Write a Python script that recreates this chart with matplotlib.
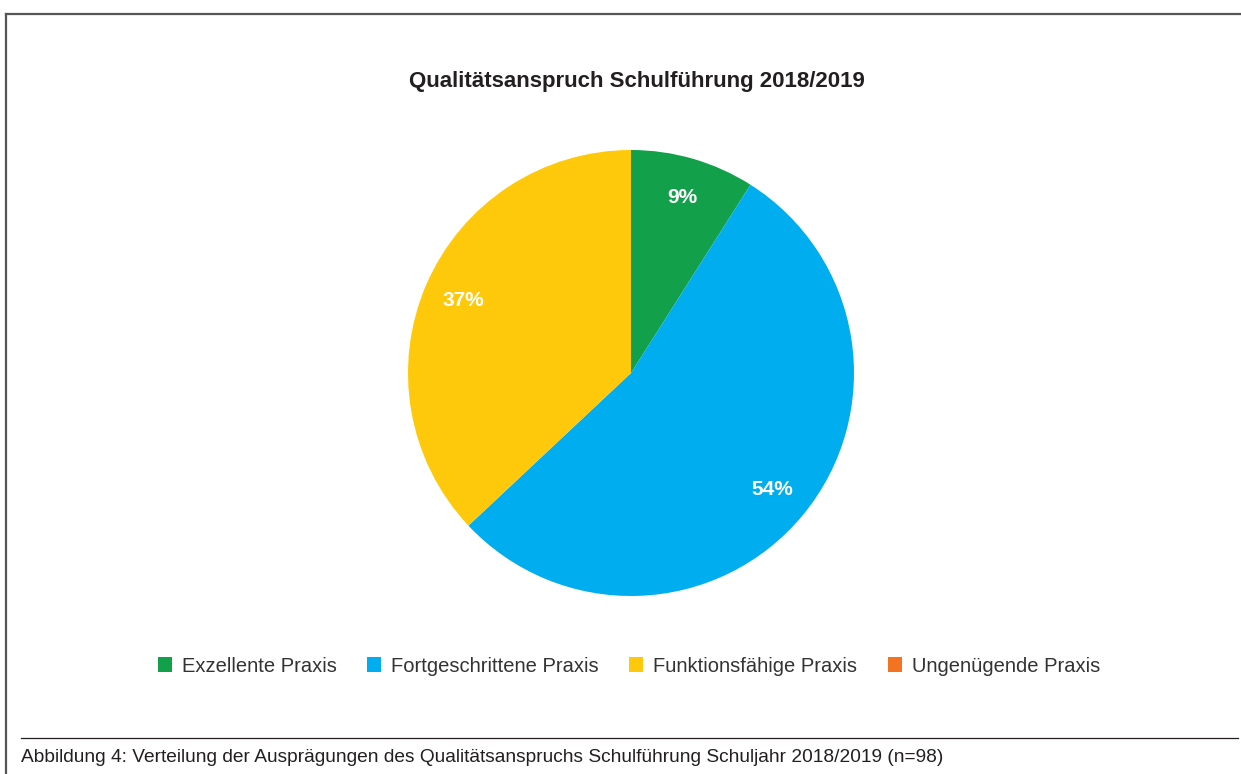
import numpy as np
import matplotlib.pyplot as plt
from matplotlib.patches import Patch
from matplotlib.lines import Line2D

plt.rcParams['font.family'] = ['Liberation Sans', 'DejaVu Sans']

categories = ['Exzellente Praxis', 'Fortgeschrittene Praxis', 'Funktionsfähige Praxis', 'Ungenügende Praxis']
shares = [9, 54, 37, 0]
colors = ['#12a04b', '#00aeef', '#ffc90b', '#f47321']
title = 'Qualitätsanspruch Schulführung 2018/2019'
caption = 'Abbildung 4: Verteilung der Ausprägungen des Qualitätsanspruchs Schulführung Schuljahr 2018/2019 (n=98)'

W, H = 1241, 774
fig = plt.figure(figsize=(W / 100, H / 100), dpi=100)

# pie axes: centre ~ (631, 373) px, radius ~ 223 px
cx, cy, r = 631, 373, 223
ax = fig.add_axes([(cx - r) / W, (H - cy - r) / H, 2 * r / W, 2 * r / H])


def fmt(p):
    return f'{p:.0f}%' if p > 0.5 else ''


wedges, texts, autotexts = ax.pie(shares, colors=colors, startangle=90, counterclock=False,
                                  autopct=fmt, pctdistance=0.82,
                                  textprops=dict(color='white', fontsize=15, fontweight='bold'))
ax.set_xlim(-1, 1)
ax.set_ylim(-1, 1)
ax.set_aspect('equal')
ax.axis('off')

fig.text(637 / W, 1 - 82 / H, title, ha='center', va='center',
         fontsize=16, fontweight='bold', color='#231f20')

handles = [Patch(facecolor=c, edgecolor='none') for c in colors]
fig.legend(handles, categories, loc='center', bbox_to_anchor=(629 / W, 1 - 666 / H),
           ncol=4, frameon=False, fontsize=14.5, handlelength=0.7, handleheight=0.7,
           handletextpad=0.5, columnspacing=1.5, labelcolor='#333333')

# frame lines
fig.add_artist(Line2D([6 / W, 1], [1 - 14 / H] * 2, color='#555555', lw=1.6))
fig.add_artist(Line2D([6 / W, 6 / W], [0, 1 - 14 / H], color='#555555', lw=1.6))
fig.add_artist(Line2D([21 / W, 1238 / W], [1 - 738 / H] * 2, color='#231f20', lw=0.9))

fig.text(21 / W, 1 - 758 / H, caption, ha='left', va='center', fontsize=13.8, color='#231f20')

fig.savefig('out.png', dpi=100)
